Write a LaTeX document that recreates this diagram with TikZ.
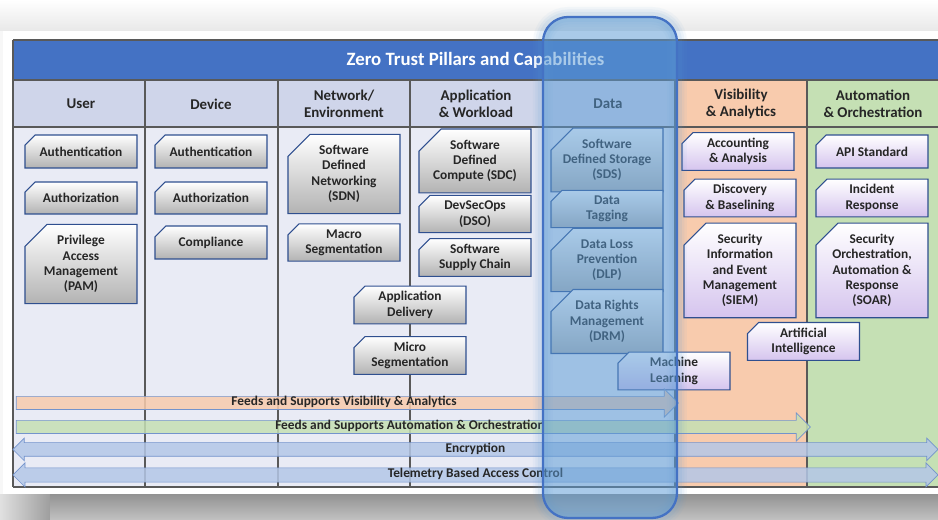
\documentclass[tikz,border=0pt]{standalone}
\usepackage{fontspec}
\setmainfont{Carlito}
\usetikzlibrary{positioning,shapes.misc,shapes.arrows}

\definecolor{titleblue}{HTML}{4472C4}
\definecolor{headblue}{HTML}{CFD5EA}
\definecolor{bodyblue}{HTML}{E9EBF5}
\definecolor{peach}{HTML}{F8CBAD}
\definecolor{sage}{HTML}{C5E0B4}
\definecolor{gridgray}{HTML}{595959}
\definecolor{boxline}{HTML}{2F4F8F}
\definecolor{bandblue}{HTML}{B4C7E7}
\definecolor{bandline}{HTML}{7393CC}
\definecolor{lilac}{HTML}{D5C4EE}
\definecolor{lensblue}{HTML}{5B9BD5}
\definecolor{lensline}{HTML}{4472C4}
\definecolor{inkgray}{HTML}{262626}

\begin{document}
\begin{tikzpicture}
	\useasboundingbox (0,0) rectangle (18.76,-10.4);
	\begin{scope}[x=0.2mm, y=-0.2mm]
		\tikzstyle{every node}=[align=center, inner sep=0pt, text=inkgray]
		\tikzstyle{capbox}=[chamfered rectangle, chamfered rectangle corners=north west, chamfered rectangle xsep=1.1mm, chamfered rectangle ysep=1.1mm, draw=boxline, line width=0.6pt, minimum width=22.4mm, font=\bfseries\fontsize{7.6}{8.7}\selectfont, top color=white, bottom color=black!30]
		\tikzstyle{tallbox}=[chamfered rectangle xsep=2.2mm, chamfered rectangle ysep=2.2mm]
		\tikzstyle{capboxv}=[capbox, top color=white, bottom color=lilac]
		\tikzstyle{pillarhead}=[font=\bfseries\fontsize{8.5}{9.6}\selectfont]
		\tikzstyle{feedband}=[single arrow, draw=bandline, line width=0.4pt, fill opacity=0.85, text opacity=1, inner xsep=0pt, inner ysep=0pt, text height=1.85mm, text depth=0.65mm, single arrow head extend=1.5mm, font=\bfseries\fontsize{7.6}{8.7}\selectfont]
		\tikzstyle{wideband}=[feedband, double arrow, double arrow head extend=0.9mm, fill=bandblue]

		\fill[black!3] (0,0) rectangle (938,520);
		\shade[top color=white, bottom color=black!9] (0,0) rectangle (938,31);
		\fill[white] (3,31) rectangle (938,495);
		\shade[top color=black!42, bottom color=black!24] (0,495) rectangle (938,520);
		\shade[left color=black!12, right color=black!38] (0,495) rectangle (50,520);

		\fill[titleblue] (13,40) rectangle (938,80);
		\fill[headblue]  (13,80) rectangle (675,127);
		\fill[bodyblue]  (13,127) rectangle (675,487);
		\fill[peach]     (675,80) rectangle (807,487);
		\fill[sage]      (807,80) rectangle (938,487);

		\draw[gridgray, line width=0.7pt] (13,40) -- (938,40) (13,80) -- (938,80) (13,127) -- (938,127) (13,487) -- (938,487);
		\draw[gridgray, line width=0.7pt] (13,40) -- (13,487);
		\draw[gridgray, line width=0.7pt] (145,80) -- (145,487) (278,80) -- (278,487) (410,80) -- (410,487);
		\draw[gridgray, line width=0.7pt] (543,80) -- (543,487) (675,80) -- (675,487) (807,80) -- (807,487);

		\node[font=\bfseries\fontsize{10.7}{12}\selectfont, text=white] (title) at (475.5,60) {Zero Trust Pillars and Capabilities};

		\node[pillarhead] (huser) at (81,104)    {User};
		\node[pillarhead] (hdev)  at (211,104)   {Device};
		\node[pillarhead] (hnet)  at (344,104)   {Network/\\Environment};
		\node[pillarhead] (happ)  at (476,104)   {Application\\\& Workload};
		\node[pillarhead] (hdata) at (608,104)   {Data};
		\node[pillarhead] (hvis)  at (741,104)   {Visibility\\\& Analytics};
		\node[pillarhead] (hauto) at (873,104)   {Automation\\\& Orchestration};

		\node[capbox, minimum height=6.6mm] (uauthn) at (81,151.5) {Authentication};
		\node[capbox, minimum height=6.4mm] (uauthz) at (81,198)   {Authorization};
		\node[capbox, tallbox, minimum height=14.4mm] (upam) at (81,264) {Privilege\\Access\\Management\\(PAM)};

		\node[capbox, minimum height=6.6mm] (dauthn) at (211,151.5) {Authentication};
		\node[capbox, minimum height=6.4mm] (dauthz) at (211,198)   {Authorization};
		\node[capbox, minimum height=6.6mm] (dcomp)  at (211,242.5) {Compliance};

		\node[capbox, tallbox, minimum height=15.6mm] (sdn) at (344,174) {Software\\Defined\\Networking\\(SDN)};
		\node[capbox, minimum height=6.6mm] (macro)  at (344,242.5) {Macro\\Segmentation};
		\node[capbox, minimum height=6.8mm] (appdel) at (410,305)   {Application\\Delivery};
		\node[capbox, minimum height=6.6mm] (micro)  at (410,355.5) {Micro\\Segmentation};

		\node[capbox, tallbox, minimum height=10.4mm] (sdc) at (475,161) {Software\\Defined\\Compute (SDC)};
		\node[capbox, minimum height=6.8mm] (dso) at (475,214)   {DevSecOps\\(DSO)};
		\node[capbox, minimum height=6.6mm] (ssc) at (475,257.5) {Software\\Supply Chain};

		\node[capbox, tallbox, minimum height=10.4mm] (sds) at (607,160)   {Software\\Defined Storage\\(SDS)};
		\node[capbox, minimum height=6.8mm]           (tag) at (607,209)   {Data\\Tagging};
		\node[capbox, tallbox, minimum height=10.8mm] (dlp) at (607,260)   {Data Loss\\Prevention\\(DLP)};
		\node[capbox, tallbox, minimum height=10.6mm] (drm) at (607,321.5) {Data Rights\\Management\\(DRM)};

		\node[capboxv, minimum height=6.6mm] (acct) at (738,151.5) {Accounting\\\& Analysis};
		\node[capboxv, minimum height=6.4mm] (disc) at (740,198)   {Discovery\\\& Baselining};
		\node[capboxv, tallbox, minimum height=17mm] (siem) at (740,270.5) {Security\\Information\\and Event\\Management\\(SIEM)};
		\node[capboxv, minimum height=6.6mm] (ai)   at (803.5,341.5) {Artificial\\Intelligence};
		\node[capboxv, minimum height=6.6mm] (ml)   at (674,371)     {Machine\\Learning};

		\node[capboxv, minimum height=6.6mm] (api)  at (872,151.5) {API Standard};
		\node[capboxv, minimum height=6.4mm] (inc)  at (872,198)   {Incident\\Response};
		\node[capboxv, tallbox, minimum height=17mm] (soar) at (872,270.5) {Security\\Orchestration,\\Automation \&\\Response\\(SOAR)};

		\node[feedband, fill=peach, minimum height=132.4mm, minimum width=5.4mm] (visfeed) at (344,403) {Feeds and Supports Visibility \& Analytics};
		\node[feedband, fill=sage, minimum height=158.8mm, minimum width=5.2mm] (autofeed) at (410,427) {Feeds and Supports Automation \& Orchestration};
		\node[wideband, minimum height=185mm, minimum width=4.4mm, text height=1.9mm, text depth=0.7mm] (encr) at (475.5,449.5) {Encryption};
		\node[wideband, minimum height=185mm, minimum width=4.8mm] (tbac) at (475.5,475) {Telemetry Based Access Control};

		\draw[lensblue, opacity=0.05, line width=4mm, rounded corners=5mm] (543,17) rectangle (677,518);
		\draw[lensblue, opacity=0.07, line width=3mm, rounded corners=5mm] (543,17) rectangle (677,518);
		\draw[lensblue, opacity=0.09, line width=2mm, rounded corners=5mm] (543,17) rectangle (677,518);
		\draw[lensline, line width=1.3pt, fill=lensblue, fill opacity=0.52, rounded corners=5mm] (543,17) rectangle (677,518);
	\end{scope}
\end{tikzpicture}
\end{document}
